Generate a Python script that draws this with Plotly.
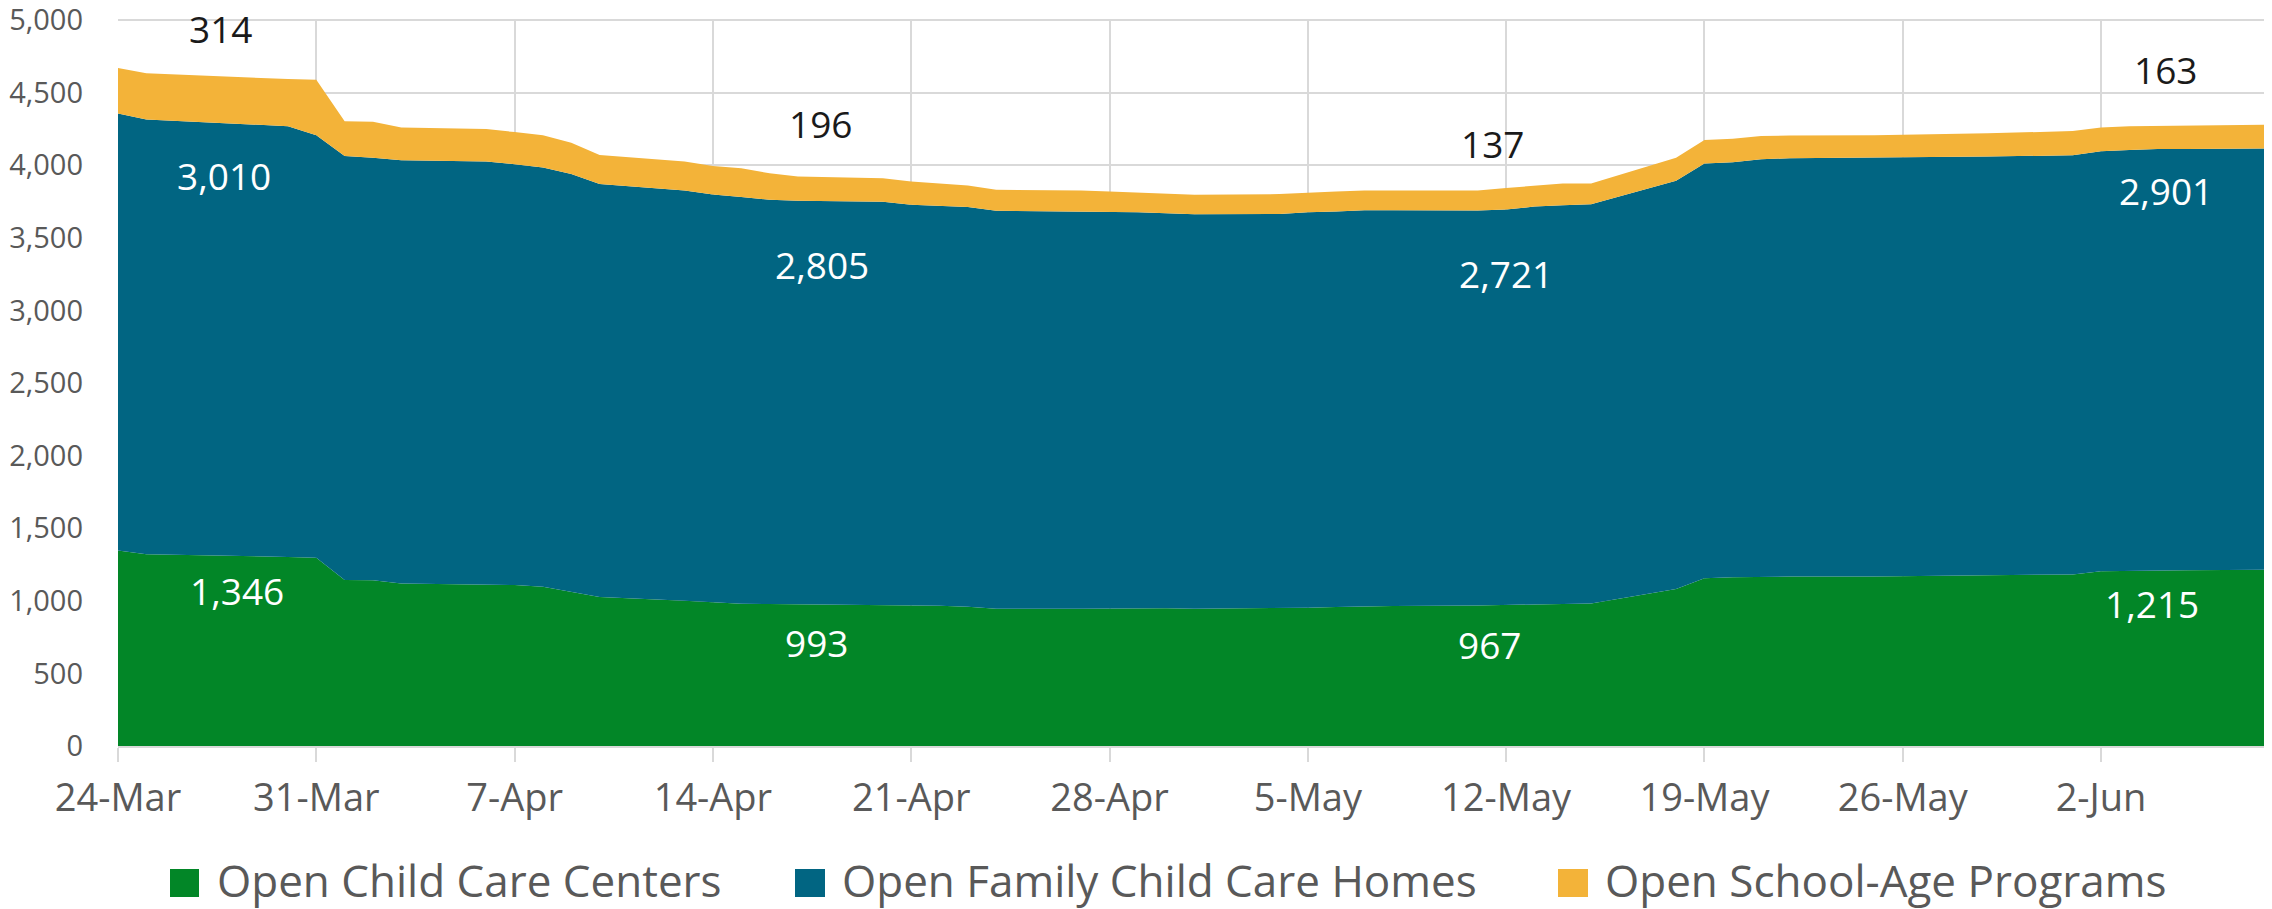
import datetime as dt
import plotly.graph_objects as go

# ---- data ----
dates = [
    "2020-03-24", "2020-03-25", "2020-03-30", "2020-03-31", "2020-04-01", "2020-04-02", "2020-04-03",
    "2020-04-06", "2020-04-07", "2020-04-08", "2020-04-09", "2020-04-10",
    "2020-04-13", "2020-04-14", "2020-04-15", "2020-04-16", "2020-04-17",
    "2020-04-20", "2020-04-21", "2020-04-22", "2020-04-23", "2020-04-24",
    "2020-04-27", "2020-04-28", "2020-04-29", "2020-04-30", "2020-05-01",
    "2020-05-04", "2020-05-05", "2020-05-06", "2020-05-07", "2020-05-08",
    "2020-05-11", "2020-05-12", "2020-05-13", "2020-05-14", "2020-05-15",
    "2020-05-18", "2020-05-19", "2020-05-20", "2020-05-21", "2020-05-22",
    "2020-05-25", "2020-05-26", "2020-05-29",
    "2020-06-01", "2020-06-02", "2020-06-03", "2020-06-04", "2020-06-05",
    "2020-06-08",
]
centers = [
    1346, 1320, 1302, 1297, 1143, 1141, 1120,
    1113, 1109, 1097, 1063, 1026,
    1001, 993, 980, 978, 976,
    971, 968, 966, 959, 946,
    946, 948, 949, 949, 946,
    948, 953, 958, 962, 964,
    967, 973, 975, 978, 982,
    1081, 1155, 1162, 1166, 1167,
    1168, 1170, 1178,
    1182, 1203, 1207, 1210, 1211,
    1215,
]
homes = [
    3010, 2995, 2967, 2910, 2921, 2911, 2914,
    2912, 2898, 2887, 2877, 2844,
    2825, 2805, 2801, 2784, 2779,
    2778, 2760, 2755, 2753, 2741,
    2736, 2732, 2727, 2721, 2716,
    2716, 2723, 2724, 2727, 2725,
    2721, 2722, 2740, 2747, 2749,
    2812, 2857, 2858, 2875, 2881,
    2884, 2884, 2882,
    2886, 2893, 2898, 2902, 2901,
    2901,
]
school = [
    314, 319, 324, 382, 239, 247, 226,
    224, 221, 223, 215, 201,
    199, 196, 198, 183, 167,
    162, 160, 151, 148, 144,
    144, 139, 136, 135, 135,
    137, 136, 137, 137, 137,
    137, 148, 143, 149, 143,
    159, 161, 162, 160, 157,
    155, 156, 160,
    167, 164, 163, 159, 160,
    163,
]
series_names = ["Open Child Care Centers", "Open Family Child Care Homes", "Open School-Age Programs"]
tick_dates = ["2020-03-24", "2020-03-31", "2020-04-07", "2020-04-14", "2020-04-21", "2020-04-28",
              "2020-05-05", "2020-05-12", "2020-05-19", "2020-05-26", "2020-06-02"]
tick_labels = ["24-Mar", "31-Mar", "7-Apr", "14-Apr", "21-Apr", "28-Apr",
               "5-May", "12-May", "19-May", "26-May", "2-Jun"]
y_ticks = [0, 500, 1000, 1500, 2000, 2500, 3000, 3500, 4000, 4500, 5000]
label_dates = ["2020-03-24", "2020-04-14", "2020-05-11", "2020-06-08"]

# ---- style ----
colors = ["#028627", "#016582", "#F3B339"]
label_colors = ["white", "white", "#1a1a1a"]
FONT = "Open Sans, Noto Sans, DejaVu Sans, sans-serif"
GRID = "#d9d9d9"
TXT = "#595959"

# page body has an 8px margin; figure is sized/placed to compensate
W, H = 2264, 901
ML, MR, MT, MB = 110, 1, 11, 163
PW = W - ML - MR
PH = H - MT - MB

fig = go.Figure()
for name, vals, col in zip(series_names, [centers, homes, school], colors):
    fig.add_trace(go.Scatter(
        x=dates, y=vals, name=name, stackgroup="one", mode="lines",
        line=dict(width=0, color=col), fillcolor=col, showlegend=False,
        hoverinfo="x+y+name",
    ))

# data labels: placement (day shifts, y positions) per label set
label_layout = [
    ([4.2, 3.74, 3.62], [1074, 3929, 4943]),
    ([3.66, 3.86, 3.8], [714, 3313, 4285]),
    ([0.4, 0.98, 0.53], [702, 3255, 4153]),
    ([-4.2, -3.7, -3.73], [983, 3829, 4661]),
]
annotations = []
for ld, (shifts, ys) in zip(label_dates, label_layout):
    i = dates.index(ld)
    base = dt.datetime.fromisoformat(ld)
    for vals, sh, yv, lc in zip([centers, homes, school], shifts, ys, label_colors):
        xpos = base + dt.timedelta(days=sh)
        annotations.append(dict(
            x=xpos.isoformat(), y=yv, xref="x", yref="y", text=f"{vals[i]:,}",
            showarrow=False, font=dict(family=FONT, size=37, color=lc),
            xanchor="center", yanchor="middle",
        ))

# legend drawn as squares + text (page-pixel layout converted to paper coords)
def px_x(page_x):
    return (page_x - 8 - ML) / PW

def px_y(page_y):
    return (H - MB - (page_y - 8)) / PH

legend_sq = [(170, 199), (795, 825), (1558, 1588)]
legend_txt_x = [215, 840, 1603]
shapes = []
for (x0, x1), tx, name, col in zip(legend_sq, legend_txt_x, series_names, colors):
    shapes.append(dict(type="rect", xref="paper", yref="paper",
                       x0=px_x(x0), x1=px_x(x1), y0=px_y(897), y1=px_y(869),
                       fillcolor=col, line=dict(width=0)))
    annotations.append(dict(x=px_x(tx), y=px_y(880), xref="paper", yref="paper",
                            text=name, showarrow=False, xanchor="left", yanchor="middle",
                            font=dict(family=FONT, size=44, color=TXT)))

fig.update_layout(
    width=W, height=H,
    margin=dict(l=ML, r=MR, t=MT, b=MB, autoexpand=False),
    paper_bgcolor="white", plot_bgcolor="white",
    font=dict(family=FONT, color=TXT),
    annotations=annotations, shapes=shapes,
    showlegend=False,
    xaxis=dict(
        type="date", range=["2020-03-24", "2020-06-08"],
        tickvals=tick_dates, ticktext=tick_labels,
        tickfont=dict(family=FONT, size=38, color=TXT),
        showgrid=True, gridcolor=GRID, gridwidth=2,
        showline=True, linecolor=GRID, linewidth=2,
        ticks="outside", ticklen=14, tickcolor=GRID, tickwidth=2,
        ticklabelstandoff=3, automargin=False, zeroline=False,
    ),
    yaxis=dict(
        range=[0, 5007], tickvals=y_ticks, ticktext=[f"{v:,}" for v in y_ticks],
        tickfont=dict(family=FONT, size=29, color=TXT),
        showgrid=True, gridcolor=GRID, gridwidth=2,
        showline=False, zeroline=False, ticks="",
        ticklabelstandoff=34, automargin=False, ticklabeloverflow="allow",
    ),
)

fig.write_html("out.html")
